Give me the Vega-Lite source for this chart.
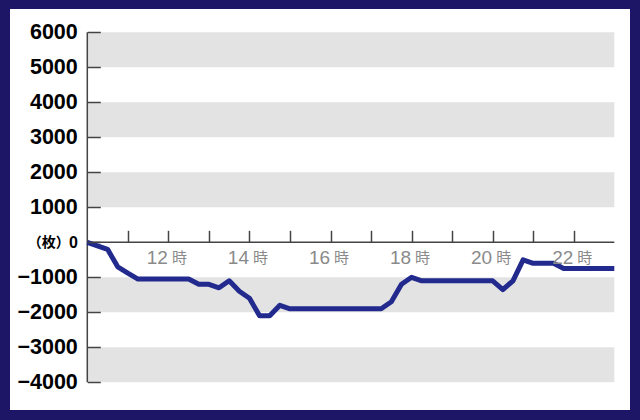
{
  "$schema": "https://vega.github.io/schema/vega-lite/v6.json",
  "width": 620,
  "height": 401,
  "autosize": {"type": "none"},
  "padding": {"left": 10, "top": 9, "right": 10, "bottom": 10},
  "background": "#1d1566",
  "config": {"view": {"fill": "#ffffff", "stroke": null}},
  "datasets": {
    "bands": [
      {"start": 10, "end": 23, "low": 5000, "high": 6000},
      {"start": 10, "end": 23, "low": 3000, "high": 4000},
      {"start": 10, "end": 23, "low": 1000, "high": 2000},
      {"start": 10, "end": 23, "low": -2000, "high": -1000},
      {"start": 10, "end": 23, "low": -4000, "high": -3000}
    ],
    "axislines": [
      {"start": 10, "end": 23, "low": 0, "high": 0},
      {"start": 10, "end": 10, "low": -4000, "high": 6000}
    ],
    "series": [
      {"hour": 10.0, "value": 0},
      {"hour": 10.5, "value": -200},
      {"hour": 10.75, "value": -700},
      {"hour": 11.0, "value": -880},
      {"hour": 11.25, "value": -1050},
      {"hour": 12.5, "value": -1050},
      {"hour": 12.75, "value": -1200},
      {"hour": 13.0, "value": -1200},
      {"hour": 13.25, "value": -1300},
      {"hour": 13.5, "value": -1100},
      {"hour": 13.75, "value": -1400},
      {"hour": 14.0, "value": -1600},
      {"hour": 14.25, "value": -2100},
      {"hour": 14.5, "value": -2100},
      {"hour": 14.75, "value": -1800},
      {"hour": 15.0, "value": -1900},
      {"hour": 17.25, "value": -1900},
      {"hour": 17.5, "value": -1700},
      {"hour": 17.75, "value": -1200},
      {"hour": 18.0, "value": -1000},
      {"hour": 18.25, "value": -1100},
      {"hour": 20.0, "value": -1100},
      {"hour": 20.25, "value": -1350},
      {"hour": 20.5, "value": -1100},
      {"hour": 20.75, "value": -500},
      {"hour": 21.0, "value": -600},
      {"hour": 21.5, "value": -600},
      {"hour": 21.75, "value": -750},
      {"hour": 23.0, "value": -750}
    ]
  },
  "resolve": {"axis": {"x": "independent", "y": "independent"}},
  "layer": [
    {
      "data": {"name": "bands"},
      "mark": {"type": "rect", "fill": "#e3e3e3"},
      "encoding": {
        "x": {
          "field": "start", "type": "quantitative",
          "scale": {"domain": [8.093, 23.387], "nice": false, "zero": false},
          "axis": {
            "orient": "bottom", "offset": -167.7, "values": [12, 14, 16, 18, 20, 22],
            "labelExpr": "datum.value", "domain": false, "ticks": false, "grid": false,
            "labelAlign": "right", "labelOffset": -1, "labelBaseline": "alphabetic",
            "labelPadding": 21, "labelFont": "Liberation Sans", "labelFontSize": 19,
            "labelColor": "#8a8a8a", "labelFlush": false, "labelOverlap": false, "title": null, "zindex": 1
          }
        },
        "x2": {"field": "end"},
        "y": {
          "field": "low", "type": "quantitative",
          "scale": {"domain": [-4791, 6666], "nice": false, "zero": false},
          "axis": {
            "orient": "left", "offset": -77.3,
            "values": [-4000, -3000, -2000, -1000, 0, 1000, 2000, 3000, 4000, 5000, 6000],
            "format": "d", "domain": false, "ticks": false, "grid": false,
            "labelAlign": "right", "labelBaseline": "middle", "labelPadding": 10,
            "labelFont": "Liberation Sans", "labelFontWeight": "bold",
            "labelFontSize": {"condition": {"test": "datum.value == 0", "value": 16}, "value": 21.5},
            "labelColor": "#000000", "labelFlush": false, "labelOverlap": false, "title": null, "zindex": 1
          }
        },
        "y2": {"field": "high"}
      }
    },
    {
      "data": {"name": "axislines"},
      "mark": {"type": "rule", "stroke": "#444444", "strokeWidth": 1.5},
      "encoding": {
        "x": {
          "field": "start", "type": "quantitative",
          "axis": {
            "orient": "top", "offset": -233.3, "values": [11, 12, 13, 14, 15, 16, 17, 18, 19, 20, 21, 22],
            "labels": false, "domain": false, "grid": false, "ticks": true,
            "tickSize": 12, "tickColor": "#444444", "tickWidth": 1.5, "title": null, "zindex": 1
          }
        },
        "x2": {"field": "end"},
        "y": {
          "field": "low", "type": "quantitative",
          "axis": {
            "orient": "right", "offset": -542.7,
            "values": [-4000, -3000, -2000, -1000, 0, 1000, 2000, 3000, 4000, 5000, 6000],
            "labels": false, "domain": false, "grid": false, "ticks": true,
            "tickSize": 13, "tickColor": "#444444", "tickWidth": 1.5, "title": null, "zindex": 1
          }
        },
        "y2": {"field": "high"}
      }
    },
    {
      "data": {"name": "series"},
      "mark": {"type": "line", "stroke": "#232a8e", "strokeWidth": 5, "strokeJoin": "round"},
      "encoding": {
        "x": {
          "field": "hour", "type": "quantitative",
          "axis": {
            "orient": "bottom", "offset": -167.7, "values": [12, 14, 16, 18, 20, 22],
            "labelExpr": "'時'", "domain": false, "ticks": false, "grid": false,
            "labelAlign": "left", "labelOffset": 3, "labelBaseline": "alphabetic",
            "labelPadding": 20.5, "labelFont": "Noto Sans CJK JP", "labelFontSize": 15,
            "labelColor": "#8a8a8a", "labelFlush": false, "labelOverlap": false, "title": null, "zindex": 1
          }
        },
        "y": {
          "field": "value", "type": "quantitative",
          "axis": {
            "orient": "left", "offset": -77.3, "values": [0],
            "labelExpr": "'（枚）'", "domain": false, "ticks": false, "grid": false,
            "labelAlign": "right", "labelBaseline": "middle", "labelPadding": 18,
            "labelFont": "Noto Sans CJK JP", "labelFontWeight": "bold", "labelFontSize": 14,
            "labelColor": "#000000", "labelFlush": false, "labelOverlap": false, "title": null, "zindex": 1
          }
        }
      }
    }
  ]
}
